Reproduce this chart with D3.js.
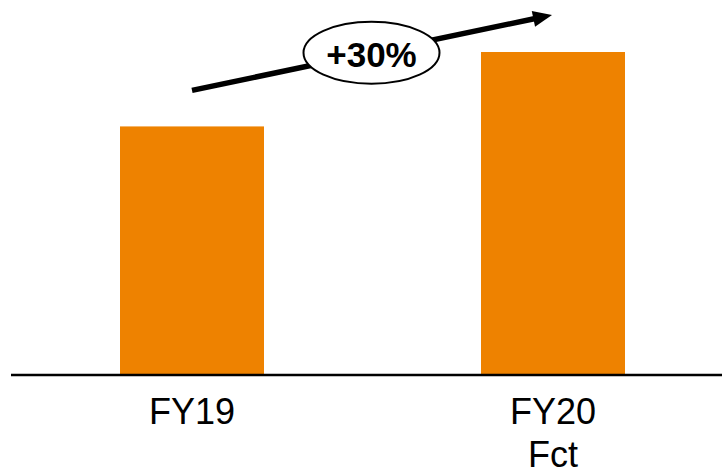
<!DOCTYPE html>
<html>
<head>
<meta charset="utf-8">
<script src="https://cdn.jsdelivr.net/npm/d3@7"></script>
<style>
  html, body { margin: 0; padding: 0; background: #fff; }
  svg { display: block; }
</style>
</head>
<body>
<svg id="chart" width="722" height="470"></svg>
<script>
// Revenue comparison: FY19 actual vs FY20 forecast
const categories = ["FY19", "FY20"];
const subLabels = ["", "Fct"];
const values = [100, 130];

const width = 722, height = 470;
const baseline = 374.5;
const barWidth = 144;
const barColor = "#EE8200";
const font = "'Liberation Sans', Arial, sans-serif";

const svg = d3.select("#chart");

const x = d3.scalePoint()
  .domain(categories)
  .range([192, 553]);

const y = d3.scaleLinear()
  .domain([0, 130])
  .range([baseline, 52]);

// bars
svg.selectAll("rect.bar")
  .data(categories)
  .join("rect")
  .attr("class", "bar")
  .attr("x", d => x(d) - barWidth / 2)
  .attr("y", (d, i) => y(values[i]))
  .attr("width", barWidth)
  .attr("height", (d, i) => baseline - y(values[i]))
  .attr("fill", barColor);

// baseline axis
svg.append("line")
  .attr("x1", 11).attr("x2", width)
  .attr("y1", baseline + 0.5).attr("y2", baseline + 0.5)
  .attr("stroke", "#000")
  .attr("stroke-width", 2.5);

// category labels
const labels = svg.selectAll("text.cat")
  .data(categories)
  .join("text")
  .attr("class", "cat")
  .attr("x", d => x(d))
  .attr("y", 424)
  .attr("text-anchor", "middle")
  .attr("font-family", font)
  .attr("font-size", 36)
  .attr("fill", "#000");
labels.append("tspan")
  .attr("x", d => x(d))
  .text(d => d);
labels.append("tspan")
  .attr("x", d => x(d))
  .attr("dy", 43)
  .text((d, i) => subLabels[i]);

// growth arrow, anchored above each bar top
const x0 = x(categories[0]), y0 = y(values[0]) - 36;
const x1 = x(categories[1]) - 1, y1 = y(values[1]) - 37;
const ang = Math.atan2(y1 - y0, x1 - x0);
const ux = Math.cos(ang), uy = Math.sin(ang);
const headLen = 19, headHalf = 8;
const bx = x1 - ux * headLen, by = y1 - uy * headLen;

svg.append("line")
  .attr("x1", x0).attr("y1", y0)
  .attr("x2", bx + ux * 2).attr("y2", by + uy * 2)
  .attr("stroke", "#000")
  .attr("stroke-width", 5.5);

svg.append("polygon")
  .attr("points", [
    [x1, y1],
    [bx - uy * headHalf, by + ux * headHalf],
    [bx + uy * headHalf, by - ux * headHalf]
  ].map(p => p.join(",")).join(" "))
  .attr("fill", "#000");

// growth badge at the arrow midpoint
const growth = Math.round((values[1] / values[0] - 1) * 100);
const cx = (x0 + x1) / 2 - 0.5, cy = (y0 + y1) / 2;

svg.append("ellipse")
  .attr("cx", cx).attr("cy", cy)
  .attr("rx", 68).attr("ry", 31)
  .attr("fill", "#fff")
  .attr("stroke", "#000")
  .attr("stroke-width", 2);

svg.append("text")
  .attr("x", cx)
  .attr("y", cy + 14.5)
  .attr("text-anchor", "middle")
  .attr("font-family", font)
  .attr("font-weight", "bold")
  .attr("font-size", 35)
  .attr("fill", "#000")
  .text("+" + growth + "%");
</script>
</body>
</html>
